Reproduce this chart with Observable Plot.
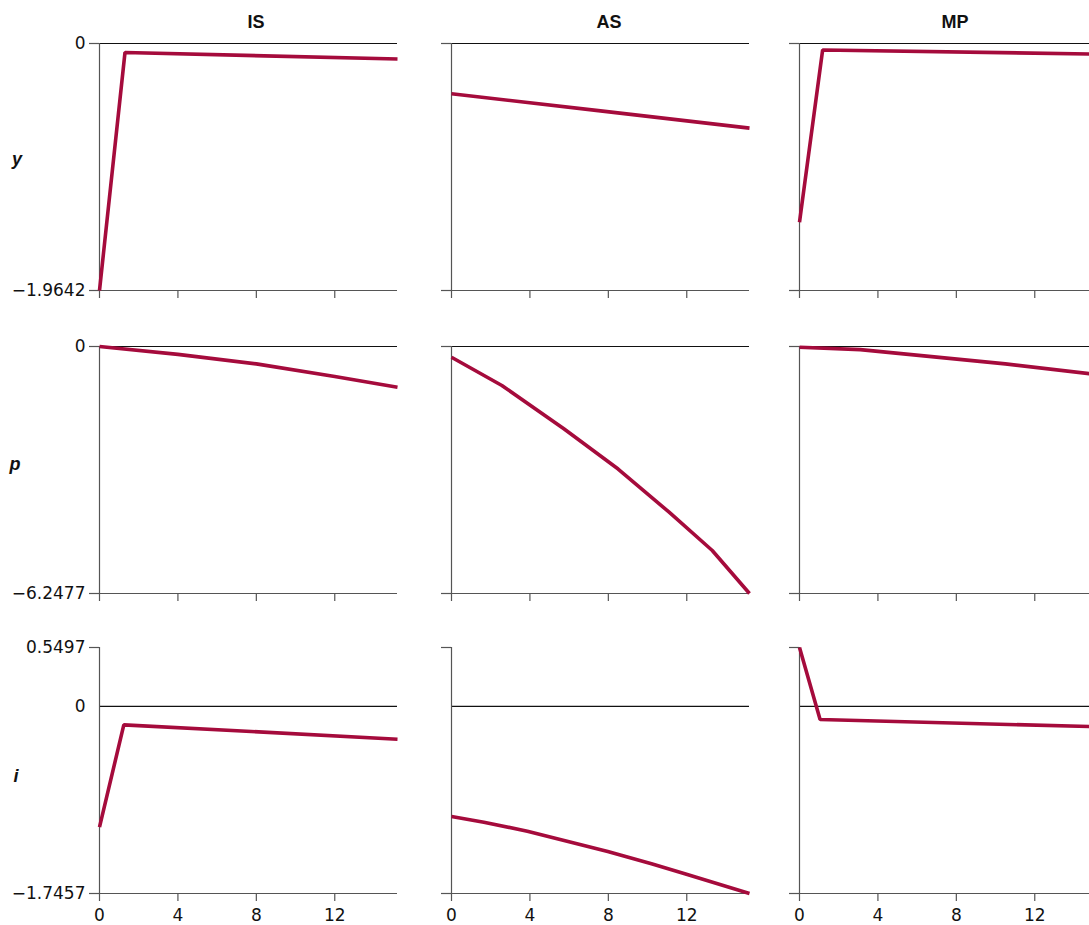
<!DOCTYPE html>
<html>
<head>
<meta charset="utf-8">
<script src="https://cdn.jsdelivr.net/npm/d3@7"></script>
<script src="https://cdn.jsdelivr.net/npm/@observablehq/plot@0.6"></script>
<style>
  html, body { margin: 0; padding: 0; background: #fff; overflow: hidden; }
  #chart { position: relative; width: 1089px; height: 925px; overflow: hidden; background: #fff; }
  .panel { position: absolute; }
  .title { position: absolute; transform: translate(-50%, -50%); font: bold 18px "Liberation Sans", Arial, sans-serif; line-height: 18px; color: #111; white-space: nowrap; }
  .rowlab { position: absolute; transform: translate(-50%, -50%); font: italic bold 18px "Liberation Sans", Arial, sans-serif; line-height: 18px; color: #111; }
</style>
</head>
<body>
<div id="chart"></div>
<script>
// ---- data ----
const shocks = ["IS", "AS", "MP"];
const variables = ["y", "p", "i"];
const xTicks = [0, 4, 8, 12];
const xDomain = [0, 15.2];

// row value ranges (min, max) and tick labels
const yRange = [-1.9642, 0];
const pRange = [-6.2477, 0];
const iRange = [-1.7457, 0.5497];
const yTickLabels = ["−1.9642", "0"];
const pTickLabels = ["−6.2477", "0"];
const iTickLabels = ["−1.7457", "0", "0.5497"];

// response of y
const t_IS_y = [0, 1.3, 15.2];
const IS_y   = [-1.9642, -0.072, -0.123];
const t_AS_y = [0, 7.6, 15.2];
const AS_y   = [-0.400, -0.536, -0.673];
const t_MP_y = [0, 1.18, 15.2];
const MP_y   = [-1.421, -0.052, -0.084];

// response of p
const t_IS_p = [0, 4, 8, 12, 15.2];
const IS_p   = [0, -0.20, -0.44, -0.76, -1.03];
const t_AS_p = [0, 2.57, 5.73, 8.5, 11.1, 13.3, 15.2];
const AS_p   = [-0.271, -0.986, -2.082, -3.10, -4.191, -5.160, -6.2477];
const t_MP_p = [0, 3.1, 10.5, 15.2];
const MP_p   = [-0.02, -0.08, -0.44, -0.71];

// response of i
const t_IS_i = [0, 1.24, 15.2];
const IS_i   = [-1.127, -0.172, -0.306];
const t_AS_i = [0, 1.65, 3.87, 7.97, 10.2, 11.9, 15.2];
const AS_i   = [-1.027, -1.080, -1.164, -1.354, -1.469, -1.562, -1.7457];
const t_MP_i = [0, 1.05, 15.2];
const MP_i   = [0.5497, -0.122, -0.19];

const series = {
  y: {IS: [t_IS_y, IS_y], AS: [t_AS_y, AS_y], MP: [t_MP_y, MP_y]},
  p: {IS: [t_IS_p, IS_p], AS: [t_AS_p, AS_p], MP: [t_MP_p, MP_p]},
  i: {IS: [t_IS_i, IS_i], AS: [t_AS_i, AS_i], MP: [t_MP_i, MP_i]}
};
const ranges = {y: yRange, p: pRange, i: iRange};
const tickLabels = {y: yTickLabels, p: pTickLabels, i: iTickLabels};

// ---- layout ----
const colX0 = [99, 451, 799];
const rowTop = [43, 346, 647];
const rowH = [247, 247, 246];
const innerW = 298;
const lineColor = "#a50b3c";

const chart = document.getElementById("chart");

function fmt(v, labels, ticks) {
  const k = ticks.indexOf(v);
  return k >= 0 ? labels[k] : String(v);
}

variables.forEach((v, r) => {
  const [ymin, ymax] = ranges[v];
  const labelTicks = v === "i" ? [ymin, 0, ymax] : [ymin, ymax];
  const labels = tickLabels[v];
  shocks.forEach((s, c) => {
    const [tt, vals] = series[v][s];
    const data = tt.map((t, k) => ({t, value: vals[k]}));
    const ml = c === 0 ? 99 : 30, mr = 6, mt = 10, mb = 40;
    const lastRow = r === variables.length - 1;
    const marks = [
      Plot.ruleY([ymin], {stroke: "#555", strokeWidth: 1.2}),
      Plot.ruleY([0], {stroke: "#111", strokeWidth: 1.2}),
      Plot.ruleX([0], {stroke: "#555", strokeWidth: 1.2}),
      Plot.axisY({ticks: [ymin, ymax], tickSize: 10, tickPadding: 4, stroke: "#555", strokeWidth: 1.2,
        label: null,
        tickFormat: c === 0 ? (d => fmt(d, labels, labelTicks)) : (() => "")}),
      Plot.axisX({ticks: xTicks, tickSize: 8, tickPadding: 7, stroke: "#555", strokeWidth: 1.2,
        label: null,
        tickFormat: lastRow ? (d => String(d)) : (() => "")}),
      Plot.line(data, {x: "t", y: "value", stroke: lineColor, strokeWidth: 3.6,
        strokeLinejoin: "miter", strokeLinecap: "butt"})
    ];
    if (c === 0 && v === "i") {
      marks.push(Plot.axisY({ticks: [0], tickSize: 0, tickPadding: 14, label: null,
        tickFormat: d => fmt(d, labels, labelTicks)}));
    }
    const svg = Plot.plot({
      width: ml + innerW + mr,
      height: mt + rowH[r] + mb,
      marginLeft: ml, marginRight: mr, marginTop: mt, marginBottom: mb,
      x: {domain: xDomain, axis: null, label: null},
      y: {domain: [ymin, ymax], axis: null, label: null},
      style: {fontFamily: "'DejaVu Sans', sans-serif", fontSize: "17px", color: "#111",
        background: "transparent", overflow: "visible"},
      marks
    });
    svg.classList.add("panel");
    svg.style.left = (colX0[c] - ml) + "px";
    svg.style.top = (rowTop[r] - mt) + "px";
    chart.appendChild(svg);
  });
});

// column titles
const titleX = [256, 609, 955];
shocks.forEach((s, c) => {
  const d = document.createElement("div");
  d.className = "title";
  d.textContent = s;
  d.style.left = titleX[c] + "px";
  d.style.top = "21.5px";
  chart.appendChild(d);
});

// row labels
const rowLabX = [17, 15, 16];
const rowLabY = [158.5, 464, 776];
variables.forEach((v, r) => {
  const d = document.createElement("div");
  d.className = "rowlab";
  d.textContent = v;
  d.style.left = rowLabX[r] + "px";
  d.style.top = rowLabY[r] + "px";
  chart.appendChild(d);
});
</script>
</body>
</html>
